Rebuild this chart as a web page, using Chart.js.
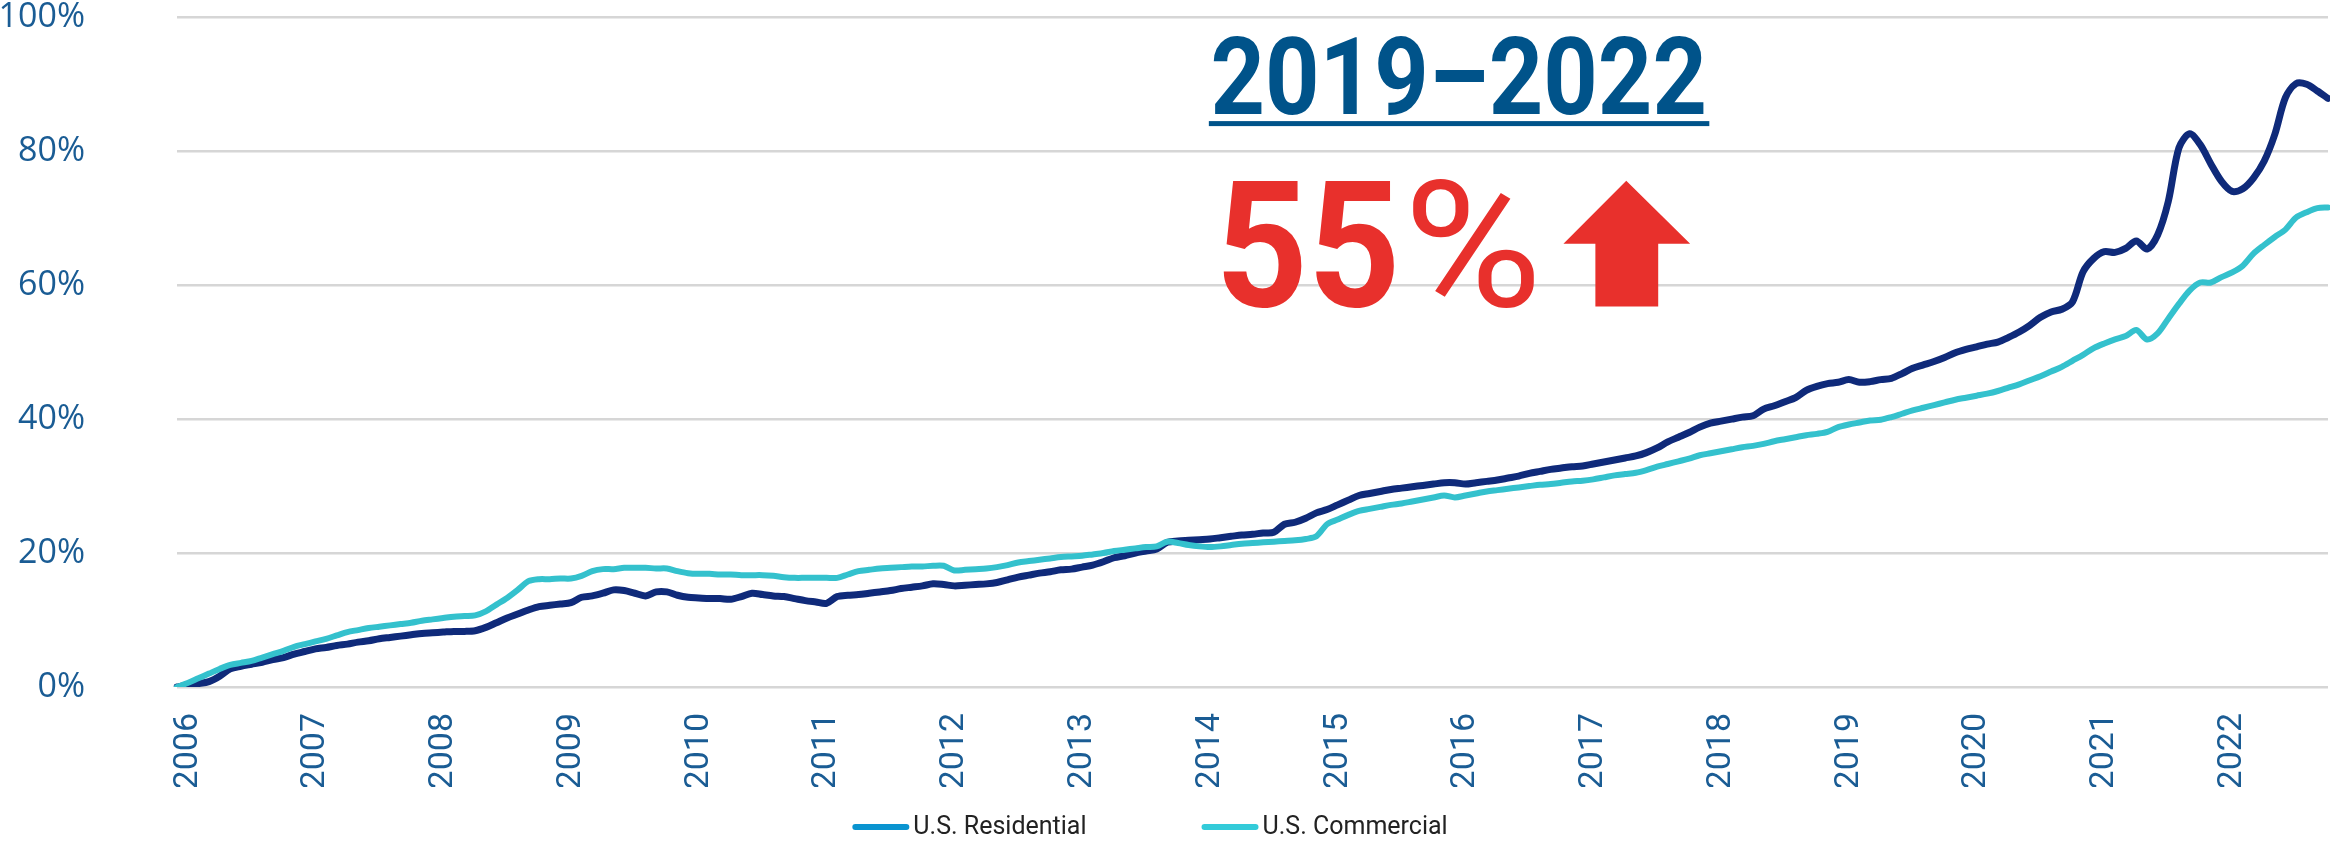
<!DOCTYPE html>
<html>
<head>
<meta charset="utf-8">
<script src="https://cdn.jsdelivr.net/npm/chart.js@4/dist/chart.umd.min.js"></script>
<style>
  html, body { margin: 0; padding: 0; background: #fff; }
  #wrap { width: 2330px; height: 842px; }
</style>
</head>
<body>
<div id="wrap"><canvas id="chart" width="2330" height="842"></canvas></div>
<script>
// monthly index series, Jan 2006 .. Nov 2022 (% change since Jan 2006)
const years = [2006, 2007, 2008, 2009, 2010, 2011, 2012, 2013, 2014,
  2015, 2016, 2017, 2018, 2019, 2020, 2021, 2022];
const months = ["01", "02", "03", "04", "05", "06", "07", "08", "09", "10", "11", "12"];
const yTicks = [0, 20, 40, 60, 80, 100];

const residential = [
  0, 0.3, 0.5, 0.8, 1.6, 2.7, 3.1, 3.4, 3.7, 4.1, 4.4, 4.9,             // 2006
  5.3, 5.7, 5.9, 6.2, 6.4, 6.7, 6.9, 7.2, 7.4, 7.6, 7.8, 8.0,           // 2007
  8.1, 8.2, 8.3, 8.3, 8.4, 8.9, 9.6, 10.3, 10.9, 11.5, 12.0, 12.2,      // 2008
  12.4, 12.6, 13.4, 13.6, 14.0, 14.5, 14.4, 14.0, 13.6, 14.2, 14.2, 13.7, // 2009
  13.4, 13.3, 13.2, 13.2, 13.1, 13.5, 14.0, 13.8, 13.6, 13.5, 13.2, 12.9, // 2010
  12.7, 12.5, 13.5, 13.7, 13.8, 14.0, 14.2, 14.4, 14.7, 14.9, 15.1, 15.4, // 2011
  15.3, 15.1, 15.2, 15.3, 15.4, 15.6, 16.0, 16.4, 16.7, 17.0, 17.2, 17.5, // 2012
  17.6, 17.9, 18.2, 18.7, 19.3, 19.6, 20.0, 20.3, 20.6, 21.6, 21.8, 21.9, // 2013
  22.0, 22.1, 22.3, 22.5, 22.7, 22.8, 23.0, 23.1, 24.3, 24.6, 25.2, 26.0, // 2014
  26.5, 27.2, 27.9, 28.6, 28.9, 29.2, 29.5, 29.7, 29.9, 30.1, 30.3, 30.5, // 2015
  30.5, 30.3, 30.5, 30.7, 30.9, 31.2, 31.5, 31.9, 32.2, 32.5, 32.7, 32.9, // 2016
  33.0, 33.3, 33.6, 33.9, 34.2, 34.5, 35.0, 35.7, 36.6, 37.3, 38.0, 38.8, // 2017
  39.4, 39.7, 40.0, 40.3, 40.5, 41.5, 42.0, 42.6, 43.2, 44.3, 44.9, 45.3, // 2018
  45.5, 45.9, 45.5, 45.6, 45.9, 46.1, 46.8, 47.6, 48.1, 48.6, 49.2, 49.9, // 2019
  50.4, 50.8, 51.2, 51.5, 52.2, 53.0, 54.0, 55.2, 56.0, 56.4, 57.5, 62.0, // 2020
  64.0, 65.0, 64.9, 65.5, 66.6, 65.4, 67.5, 72.5, 80.5, 82.6, 81.0, 78.1, // 2021
  75.5, 74.0, 74.4, 76.0, 78.5, 82.5, 88.0, 90.1, 90.0, 89.0, 87.9        // 2022
];

const commercial = [
  0, 0.6, 1.3, 2.0, 2.7, 3.3, 3.6, 3.9, 4.4, 4.9, 5.4, 6.0,             // 2006
  6.4, 6.8, 7.2, 7.7, 8.2, 8.5, 8.8, 9.0, 9.2, 9.4, 9.6, 9.9,           // 2007
  10.1, 10.3, 10.5, 10.6, 10.7, 11.3, 12.3, 13.3, 14.5, 15.8, 16.1, 16.1, // 2008
  16.2, 16.2, 16.6, 17.3, 17.6, 17.6, 17.8, 17.8, 17.8, 17.7, 17.7, 17.3, // 2009
  17.0, 16.9, 16.9, 16.8, 16.8, 16.7, 16.7, 16.7, 16.6, 16.4, 16.3, 16.3, // 2010
  16.3, 16.3, 16.3, 16.8, 17.3, 17.5, 17.7, 17.8, 17.9, 18.0, 18.0, 18.1, // 2011
  18.1, 17.4, 17.5, 17.6, 17.7, 17.9, 18.2, 18.6, 18.8, 19.0, 19.2, 19.4, // 2012
  19.5, 19.6, 19.8, 20.0, 20.3, 20.5, 20.7, 20.9, 21.0, 21.7, 21.5, 21.2, // 2013
  21.0, 20.9, 21.0, 21.2, 21.4, 21.5, 21.6, 21.7, 21.8, 21.9, 22.1, 22.5, // 2014
  24.3, 25.0, 25.7, 26.3, 26.6, 26.9, 27.2, 27.4, 27.7, 28.0, 28.3, 28.6, // 2015
  28.3, 28.6, 28.9, 29.2, 29.4, 29.6, 29.8, 30.0, 30.2, 30.3, 30.5, 30.7, // 2016
  30.8, 31.0, 31.3, 31.6, 31.8, 32.0, 32.4, 32.9, 33.3, 33.7, 34.1, 34.6, // 2017
  34.9, 35.2, 35.5, 35.8, 36.0, 36.3, 36.7, 37.0, 37.3, 37.6, 37.8, 38.1, // 2018
  38.8, 39.2, 39.5, 39.8, 39.9, 40.3, 40.8, 41.3, 41.7, 42.1, 42.5, 42.9, // 2019
  43.2, 43.5, 43.8, 44.2, 44.7, 45.2, 45.8, 46.4, 47.1, 47.8, 48.7, 49.6, // 2020
  50.6, 51.3, 51.9, 52.4, 53.3, 51.9, 52.8, 55.0, 57.2, 59.2, 60.4, 60.4, // 2021
  61.2, 61.9, 62.9, 64.7, 66.0, 67.2, 68.3, 70.1, 70.9, 71.5, 71.6        // 2022
];

const categories = [];
years.forEach(y => months.forEach(m => categories.push(y + "-" + m)));
categories.length = residential.length;

const blue = "#1a5c94";
const red = "#e8302c";

function fitText(ctx, text, font, color, left, right, baseline) {
  ctx.save();
  ctx.font = font;
  ctx.fillStyle = color;
  ctx.textBaseline = "alphabetic";
  const m = ctx.measureText(text);
  const sx = (right - left) / (m.actualBoundingBoxLeft + m.actualBoundingBoxRight);
  ctx.translate(left + m.actualBoundingBoxLeft * sx, baseline);
  ctx.scale(sx, 1);
  ctx.fillText(text, 0, 0);
  ctx.restore();
}

// headline "2019–2022 / 55% ↑" placed on the chart's own scales
const headline = {
  id: "headline",
  afterDraw(chart) {
    const { ctx, scales: { x, y } } = chart;
    const X = i => x.getPixelForValue(i), Y = v => y.getPixelForValue(v);

    fitText(ctx, "2019–2022", "bold 107px Roboto", "#00538a", X(97.3), X(143.4), Y(85.6));
    ctx.fillStyle = "#00538a";
    ctx.fillRect(X(96.9), Y(84.5), X(143.9) - X(96.9), 5);

    fitText(ctx, "55", "bold 176px Roboto", red, X(98.3), X(114.3), Y(56.9));
    fitText(ctx, "%", "400 176px Roboto", red, X(116.1), X(127.5), Y(56.9));

    ctx.beginPath();
    ctx.moveTo(X(136.1), Y(75.6));
    ctx.lineTo(X(142.1), Y(66.2));
    ctx.lineTo(X(139.1), Y(66.2));
    ctx.lineTo(X(139.1), Y(56.8));
    ctx.lineTo(X(133.2), Y(56.8));
    ctx.lineTo(X(133.2), Y(66.2));
    ctx.lineTo(X(130.2), Y(66.2));
    ctx.closePath();
    ctx.fillStyle = red;
    ctx.fill();
  }
};

// legend drawn as short rounded strokes under the axis labels
const legendItems = [
  { text: "U.S. Residential", color: "#0a94d0" },
  { text: "U.S. Commercial", color: "#33cbd9" }
];
const lineLegend = {
  id: "lineLegend",
  afterDraw(chart) {
    const ctx = chart.ctx;
    const sw = 57, gap = 4, spacing = 115, cy = 828;
    ctx.save();
    ctx.font = "25px Roboto";
    const widths = legendItems.map(it => sw + gap + ctx.measureText(it.text).width);
    const total = widths.reduce((a, b) => a + b, 0) + spacing * (legendItems.length - 1);
    let x = chart.width / 2 - 15 - total / 2;
    legendItems.forEach((it, i) => {
      ctx.strokeStyle = it.color;
      ctx.lineWidth = 6;
      ctx.lineCap = "round";
      ctx.beginPath();
      ctx.moveTo(x + 3, cy - 1);
      ctx.lineTo(x + sw - 3, cy - 1);
      ctx.stroke();
      ctx.fillStyle = "#222";
      ctx.textBaseline = "middle";
      ctx.fillText(it.text, x + sw + gap, cy);
      x += widths[i] + spacing;
    });
    ctx.restore();
  }
};

new Chart(document.getElementById("chart"), {
  type: "line",
  data: {
    labels: categories,
    datasets: [
      {
        label: "U.S. Residential",
        data: residential,
        borderColor: "#0f2a7a",
        borderWidth: 7,
        order: 1
      },
      {
        label: "U.S. Commercial",
        data: commercial,
        borderColor: "#34c1cd",
        borderWidth: 6,
        order: 0
      }
    ]
  },
  options: {
    responsive: false,
    animation: false,
    devicePixelRatio: 1,
    layout: { padding: { top: 0, right: 2, bottom: 55, left: 0 } },
    elements: {
      point: { radius: 0 },
      line: { tension: 0.3, borderCapStyle: "round", borderJoinStyle: "round" }
    },
    plugins: {
      legend: { display: false },
      tooltip: { enabled: false }
    },
    scales: {
      x: {
        grid: { display: false },
        border: { display: false },
        afterFit: s => { s.height = 100; },
        ticks: {
          autoSkip: false,
          minRotation: 90,
          maxRotation: 90,
          padding: 18,
          labelOffset: 11,
          color: blue,
          font: { family: "Roboto", size: 34 },
          callback: (v, i) => (i % 12 === 0 ? categories[i].slice(0, 4) : null)
        }
      },
      y: {
        min: yTicks[0],
        max: yTicks[yTicks.length - 1],
        afterFit: s => { s.width = 177; },
        afterBuildTicks: s => { s.ticks = yTicks.map(v => ({ value: v })); },
        border: { display: false },
        grid: {
          color: "#d6d6d6",
          lineWidth: 2.5,
          drawTicks: true,
          tickLength: 90,
          tickColor: "rgba(0,0,0,0)"
        },
        ticks: {
          padding: 2,
          color: blue,
          font: { family: "'Open Sans'", size: 34, lineHeight: 0.9 },
          callback: v => v + "%"
        }
      }
    }
  },
  plugins: [headline, lineLegend]
});
</script>
</body>
</html>
